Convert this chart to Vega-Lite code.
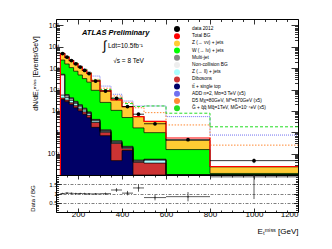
{
  "$schema": "https://vega.github.io/schema/vega-lite/v6.json",
  "padding": {"left": 28, "top": 18, "right": 4, "bottom": 4},
  "spacing": 0,
  "bounds": "flush",
  "config": {
    "font": "Liberation Sans",
    "view": {"stroke": "black", "strokeWidth": 1},
    "axis": {"grid": false, "domain": false, "tickColor": "black", "tickWidth": 0.8, "labelColor": "black", "titleColor": "black", "labelFont": "Liberation Sans", "titleFont": "Liberation Sans", "titleFontWeight": "normal", "minExtent": 0}
  },
  "datasets": {
    "h": [
      {"lo":120,"hi":140,"mid":130,"data":4800,"err":15.5,"tot":4800,"zvv":4800,"wlv":2400,"mj":520,"ncb":480,"zll":55,"vv":40,"tt":34,"add":5100,"d5":5050,"gmsb":5000,"ratio":1.0,"rerr":0.01},
      {"lo":140,"hi":160,"mid":150,"data":3250,"err":12.7,"tot":3200,"zvv":3200,"wlv":1570,"mj":58,"ncb":50,"zll":42,"vv":32,"tt":27,"add":3450,"d5":3400,"gmsb":3380,"ratio":1.02,"rerr":0.01},
      {"lo":160,"hi":180,"mid":170,"data":2270,"err":10.7,"tot":2250,"zvv":2250,"wlv":1060,"mj":41,"ncb":36,"zll":31,"vv":24,"tt":20,"add":2450,"d5":2400,"gmsb":2390,"ratio":1.01,"rerr":0.012},
      {"lo":180,"hi":200,"mid":190,"data":1590,"err":8.9,"tot":1600,"zvv":1600,"wlv":720,"mj":28,"ncb":25,"zll":22,"vv":17.5,"tt":14,"add":1760,"d5":1720,"gmsb":1720,"ratio":0.99,"rerr":0.015},
      {"lo":200,"hi":220,"mid":210,"data":1120,"err":7.5,"tot":1120,"zvv":1120,"wlv":480,"mj":19.5,"ncb":17.5,"zll":15.5,"vv":12.5,"tt":10,"add":1260,"d5":1220,"gmsb":1220,"ratio":1.0,"rerr":0.02},
      {"lo":220,"hi":240,"mid":230,"data":780,"err":6.2,"tot":790,"zvv":790,"wlv":324,"mj":13.5,"ncb":12.3,"zll":11,"vv":9,"tt":7,"add":910,"d5":870,"gmsb":870,"ratio":0.99,"rerr":0.02},
      {"lo":240,"hi":260,"mid":250,"data":560,"err":5.3,"tot":570,"zvv":570,"wlv":222,"mj":9,"ncb":8.3,"zll":7.5,"vv":6.2,"tt":4.8,"add":670,"d5":640,"gmsb":640,"ratio":0.98,"rerr":0.025},
      {"lo":260,"hi":300,"mid":280,"data":250,"err":2.5,"tot":255,"zvv":255,"wlv":92,"mj":4.0,"ncb":3.7,"zll":3.4,"vv":2.86,"tt":1.7,"add":427,"d5":300,"gmsb":280,"ratio":0.98,"rerr":0.03},
      {"lo":300,"hi":350,"mid":325,"data":85,"err":1.3,"tot":86,"zvv":86,"wlv":25,"mj":1.3,"ncb":1.2,"zll":1.09,"vv":1.0,"tt":0.69,"add":145,"d5":115,"gmsb":100,"ratio":0.99,"rerr":0.05},
      {"lo":350,"hi":400,"mid":375,"data":39,"err":0.88,"tot":33,"zvv":33,"wlv":10.6,"mj":0.4,"ncb":0.36,"zll":0.33,"vv":0.3,"tt":0.047,"add":60,"d5":50,"gmsb":40,"ratio":1.19,"rerr":0.1},
      {"lo":400,"hi":450,"mid":425,"data":16,"err":0.57,"tot":15.7,"zvv":15.7,"wlv":4.9,"mj":0.22,"ncb":0.2,"zll":0.19,"vv":0.17,"tt":0.14,"add":29,"d5":25,"gmsb":22,"ratio":1.02,"rerr":0.12},
      {"lo":450,"hi":500,"mid":475,"data":7,"err":0.37,"tot":5.4,"zvv":5.4,"wlv":1.6,"mj":0.05,"ncb":0.045,"zll":0.041,"vv":0.04,"tt":0.005,"add":17,"d5":14,"gmsb":16,"ratio":1.3,"rerr":0.2},
      {"lo":500,"hi":600,"mid":550,"data":2.5,"err":0.16,"tot":3.2,"zvv":3.2,"wlv":0.96,"mj":0.055,"ncb":0.052,"zll":0.05,"vv":0.036,"tt":0.004,"add":17,"d5":8.3,"gmsb":17,"ratio":0.78,"rerr":0.15},
      {"lo":600,"hi":800,"mid":700,"data":0.45,"err":0.047,"tot":0.54,"zvv":0.42,"wlv":0.155,"mj":0.008,"ncb":0.0075,"zll":0.007,"vv":0.006,"tt":0.003,"add":5.4,"d5":2.2,"gmsb":7.8,"ratio":0.83,"rerr":0.25},
      {"lo":800,"hi":1200,"mid":1000,"data":0.047,"err":0.011,"tot":0.025,"zvv":0.024,"wlv":0.0118,"mj":0.005,"ncb":0.0045,"zll":0.004,"vv":0.003,"tt":0.002,"add":0.74,"d5":0.25,"gmsb":1.8,"ratio":1.9,"rerr":1.2}
    ]
  },
  "resolve": {"legend": {"color": "independent"}},
  "vconcat": [
    {
      "width": 242,
      "height": 156,
      "data": {"name": "h"},
      "layer": [
        {
          "transform": [{"fold": ["zvv","wlv","mj","ncb","zll","vv","tt"], "as": ["key","value"]}],
          "mark": {"type": "area", "interpolate": "step-after", "clip": true, "opacity": 1},
          "encoding": {
            "x": {"field": "lo", "type": "quantitative", "scale": {"domain": [100,1200], "nice": false, "zero": false},
              "axis": {"orient": "bottom", "values": [100,150,200,250,300,350,400,450,500,550,600,650,700,750,800,850,900,950,1000,1050,1100,1150,1200], "tickSize": {"condition": {"test": "datum.value % 200 == 0", "value": -5}, "value": -2.5}, "labels": false, "title": null}},
            "y": {"field": "value", "type": "quantitative", "stack": null, "scale": {"type": "log", "domain": [0.01,200000], "nice": false, "clamp": true},
              "axis": {"orient": "left", "values": [0.01,0.02,0.03,0.04,0.05,0.06,0.07,0.08,0.09,0.1,0.2,0.3,0.4,0.5,0.6,0.7,0.8,0.9,1,2,3,4,5,6,7,8,9,10,20,30,40,50,60,70,80,90,100,200,300,400,500,600,700,800,900,1000,2000,3000,4000,5000,6000,7000,8000,9000,10000,20000,30000,40000,50000,60000,70000,80000,90000,100000],
                "tickSize": {"condition": {"test": "abs(log(datum.value)/LN10 - round(log(datum.value)/LN10)) < 0.01", "value": -7}, "value": -3.5},
                "labelExpr": "datum.value==100000?'10⁵':datum.value==10000?'10⁴':datum.value==1000?'10³':datum.value==100?'10²':datum.value==10?'10':datum.value==1?'1':datum.value==0.1?'10⁻¹':''",
                "labelFontSize": 7, "labelPadding": 4, "labelOverlap": false,
                "title": "dN/dEₜᵐⁱˢˢ [Events/GeV]", "titleFontSize": 7, "titleX": -19, "titleY": 54, "titleAngle": 270, "titleAlign": "center", "titleBaseline": "alphabetic"}},
            "y2": {"datum": 0.01},
            "color": {"field": "key", "type": "nominal",
              "scale": {"domain": ["data","tot","zvv","wlv","mj","ncb","zll","vv","tt","add","d5","gmsb"], "range": ["#000000","#ff0000","#ffcc33","#00ff00","#888888","#eeeeee","#aaffff","#cc3333","#000066","#7070f0","#ff8a33","#22dd22"]},
              "legend": {
                "orient": "none", "legendX": 117, "legendY": 6, "title": null, "padding": 0, "offset": 0,
                "labelFont": "Liberation Sans", "labelFontSize": 4.8, "labelColor": "black", "labelOffset": 11, "labelLimit": 300,
                "symbolSize": 36, "rowPadding": 0.2,
                "labelExpr": "datum.value=='data'?'data 2012':datum.value=='tot'?'Total BG':datum.value=='zvv'?'Z (→ νν) + jets':datum.value=='wlv'?'W (→ lν) + jets':datum.value=='mj'?'Multi-jet':datum.value=='ncb'?'Non-collision BG':datum.value=='zll'?'Z (→ ll) + jets':datum.value=='vv'?'Dibosons':datum.value=='tt'?'tt̄ + single top':datum.value=='add'?'ADD n=2, Mᴅ=3 TeV (x5)':datum.value=='d5'?'D5 Mχ=80GeV, M*=670GeV (x5)':'G̃ + q̃q̃ Mq̃=1TeV, MG̃=10⁻⁴eV (x5)'",
                "encode": {"symbols": {"update": {
                  "shape": {"signal": "datum.value=='data'?'M-3.333,0H3.333M0.667,0A0.667,0.667,0,1,1,-0.667,0A0.667,0.667,0,1,1,0.667,0Z':indexof(['tot','add','d5','gmsb'],datum.value)>=0?'M-3.333,0H3.333':'M-3.333,-1H3.333V1H-3.333Z'"},
                  "fill": {"signal": "datum.value=='data'?'#000000':indexof(['tot','add','d5','gmsb'],datum.value)>=0?'transparent':['#000000','#ff0000','#ffcc33','#00ff00','#888888','#eeeeee','#aaffff','#cc3333','#000066','#7070f0','#ff8a33','#22dd22'][indexof(['data','tot','zvv','wlv','mj','ncb','zll','vv','tt','add','d5','gmsb'],datum.value)]"},
                  "stroke": {"signal": "indexof(['tot','add','d5','gmsb'],datum.value)>=0?['#000000','#ff0000','#ffcc33','#00ff00','#888888','#eeeeee','#aaffff','#cc3333','#000066','#7070f0','#ff8a33','#22dd22'][indexof(['data','tot','zvv','wlv','mj','ncb','zll','vv','tt','add','d5','gmsb'],datum.value)]:'#000000'"},
                  "strokeWidth": {"signal": "datum.value=='tot'?1.2:indexof(['add','d5','gmsb'],datum.value)>=0?1:0.6"},
                  "strokeDash": {"signal": "datum.value=='add'?[1,1]:datum.value=='d5'?[1.5,1]:datum.value=='gmsb'?[3,2]:[]"},
                  "opacity": {"value": 1}
                }}}
              }}
          }
        },
        {
          "transform": [{"fold": ["zvv","wlv","mj","ncb","zll","vv","tt"], "as": ["key","value"]}, {"filter": "datum.lo == 800"}],
          "mark": {"type": "rect", "clip": true},
          "encoding": {
            "x": {"field": "lo", "type": "quantitative", "axis": null},
            "x2": {"field": "hi"},
            "y": {"field": "value", "type": "quantitative", "axis": null},
            "y2": {"datum": 0.01},
            "order": {"field": "value", "sort": "descending"},
            "fill": {"field": "key", "type": "nominal", "scale": {"domain": ["zvv","wlv","mj","ncb","zll","vv","tt"], "range": ["#ffcc33","#00ff00","#888888","#eeeeee","#aaffff","#cc3333","#000066"]}, "legend": null}
          }
        },
        {
          "transform": [{"fold": ["zvv","wlv","mj","ncb","zll","vv","tt"], "as": ["key","value"]}],
          "mark": {"type": "line", "interpolate": "step-after", "color": "black", "strokeWidth": 0.7, "clip": true},
          "encoding": {
            "x": {"field": "lo", "type": "quantitative",
              "axis": {"orient": "top", "values": [100,150,200,250,300,350,400,450,500,550,600,650,700,750,800,850,900,950,1000,1050,1100,1150,1200], "tickSize": {"condition": {"test": "datum.value % 200 == 0", "value": -5}, "value": -2.5}, "labels": false, "title": null}},
            "y": {"field": "value", "type": "quantitative",
              "axis": {"orient": "right", "values": [0.01,0.02,0.03,0.04,0.05,0.06,0.07,0.08,0.09,0.1,0.2,0.3,0.4,0.5,0.6,0.7,0.8,0.9,1,2,3,4,5,6,7,8,9,10,20,30,40,50,60,70,80,90,100,200,300,400,500,600,700,800,900,1000,2000,3000,4000,5000,6000,7000,8000,9000,10000,20000,30000,40000,50000,60000,70000,80000,90000,100000],
                "tickSize": {"condition": {"test": "abs(log(datum.value)/LN10 - round(log(datum.value)/LN10)) < 0.01", "value": -7}, "value": -3.5},
                "labels": false, "title": null}},
            "detail": {"field": "key"}
          }
        },
        {
          "transform": [{"fold": ["zvv","wlv","mj","ncb","zll","vv","tt"], "as": ["key","value"]}, {"filter": "datum.lo == 800"}],
          "mark": {"type": "rule", "color": "black", "strokeWidth": 0.7},
          "encoding": {
            "x": {"field": "lo", "type": "quantitative", "axis": null},
            "x2": {"field": "hi"},
            "y": {"field": "value", "type": "quantitative", "axis": null}
          }
        },
        {
          "transform": [{"fold": ["add","d5","gmsb"], "as": ["sig","sv"]}],
          "mark": {"type": "line", "interpolate": "step-after", "strokeWidth": 1, "clip": true},
          "encoding": {
            "x": {"field": "lo", "type": "quantitative", "axis": null},
            "y": {"field": "sv", "type": "quantitative", "axis": null},
            "stroke": {"field": "sig", "type": "nominal", "scale": {"domain": ["add","d5","gmsb"], "range": ["#7070f0","#ff8a33","#22dd22"]}, "legend": null},
            "strokeDash": {"field": "sig", "type": "nominal", "scale": {"domain": ["add","d5","gmsb"], "range": [[1,1],[1.5,1.5],[3,2]]}, "legend": null}
          }
        },
        {
          "transform": [{"fold": ["add","d5","gmsb"], "as": ["sig","sv"]}, {"filter": "datum.lo == 800"}],
          "mark": {"type": "rule", "strokeWidth": 1},
          "encoding": {
            "x": {"field": "lo", "type": "quantitative", "axis": null},
            "x2": {"field": "hi"},
            "y": {"field": "sv", "type": "quantitative", "axis": null},
            "stroke": {"field": "sig", "type": "nominal", "legend": null},
            "strokeDash": {"field": "sig", "type": "nominal", "legend": null}
          }
        },
        {
          "mark": {"type": "line", "interpolate": "step-after", "color": "#ff0000", "strokeWidth": 1.2, "clip": true},
          "encoding": {
            "x": {"field": "lo", "type": "quantitative", "axis": null},
            "y": {"field": "tot", "type": "quantitative", "axis": null}
          }
        },
        {
          "transform": [{"filter": "datum.lo == 800"}],
          "mark": {"type": "rule", "color": "#ff0000", "strokeWidth": 1.2},
          "encoding": {
            "x": {"field": "lo", "type": "quantitative", "axis": null},
            "x2": {"field": "hi"},
            "y": {"field": "tot", "type": "quantitative", "axis": null}
          }
        },
        {
          "transform": [{"filter": "datum.lo == 120"}],
          "mark": {"type": "rule", "color": "#ff0000", "strokeWidth": 1.2},
          "encoding": {
            "x": {"field": "lo", "type": "quantitative", "axis": null},
            "y": {"field": "tot", "type": "quantitative", "axis": null},
            "y2": {"datum": 0.01}
          }
        },
        {
          "mark": {"type": "rule", "color": "black", "strokeWidth": 0.8},
          "encoding": {
            "x": {"field": "lo", "type": "quantitative", "axis": null},
            "x2": {"field": "hi"},
            "y": {"field": "data", "type": "quantitative", "axis": null}
          }
        },
        {
          "mark": {"type": "errorbar", "color": "black", "thickness": 0.8},
          "encoding": {
            "x": {"field": "mid", "type": "quantitative", "axis": null},
            "y": {"field": "data", "type": "quantitative", "axis": null},
            "yError": {"field": "err"}
          }
        },
        {
          "mark": {"type": "circle", "color": "black", "size": 14, "opacity": 1},
          "encoding": {
            "x": {"field": "mid", "type": "quantitative", "axis": null},
            "y": {"field": "data", "type": "quantitative", "axis": null}
          }
        },
        {
          "data": {"values": [{}]},
          "mark": {"type": "text", "text": "ATLAS Preliminary", "font": "Liberation Sans", "fontSize": 7.5, "fontWeight": "bold", "fontStyle": "italic", "align": "left", "baseline": "alphabetic"},
          "encoding": {
            "x": {"datum": 218, "type": "quantitative", "axis": null},
            "y": {"datum": 34300, "type": "quantitative", "axis": null}
          }
        },
        {
          "data": {"values": [{}]},
          "mark": {"type": "text", "text": "∫", "font": "Liberation Sans", "fontSize": 13, "align": "left", "baseline": "alphabetic"},
          "encoding": {
            "x": {"datum": 314, "type": "quantitative", "axis": null},
            "y": {"datum": 6870, "type": "quantitative", "axis": null}
          }
        },
        {
          "data": {"values": [{}]},
          "mark": {"type": "text", "text": "Ldt=10.5fb⁻¹", "font": "Liberation Sans", "fontSize": 6.5, "align": "left", "baseline": "alphabetic"},
          "encoding": {
            "x": {"datum": 336, "type": "quantitative", "axis": null},
            "y": {"datum": 8800, "type": "quantitative", "axis": null}
          }
        },
        {
          "data": {"values": [{}]},
          "mark": {"type": "text", "text": "√s = 8 TeV", "font": "Liberation Sans", "fontSize": 6.5, "align": "left", "baseline": "alphabetic"},
          "encoding": {
            "x": {"datum": 360, "type": "quantitative", "axis": null},
            "y": {"datum": 1710, "type": "quantitative", "axis": null}
          }
        }
      ],
      "resolve": {"axis": {"x": "independent", "y": "independent"}}
    },
    {
      "width": 242,
      "height": 37,
      "data": {"name": "h"},
      "layer": [
        {
          "mark": {"type": "rule", "color": "#333333", "strokeWidth": 0.8, "clip": true},
          "encoding": {
            "x": {"field": "lo", "type": "quantitative", "scale": {"domain": [100,1200], "nice": false, "zero": false},
              "axis": {"orient": "bottom", "values": [100,150,200,250,300,350,400,450,500,550,600,650,700,750,800,850,900,950,1000,1050,1100,1150,1200], "tickSize": {"condition": {"test": "datum.value % 200 == 0", "value": -4}, "value": -2},
                "labelExpr": "datum.value % 200 == 0 ? format(datum.value, 'd') : ''", "labelFontSize": 8, "labelPadding": 2, "labelOverlap": false,
                "title": "Eₜᵐⁱˢˢ [GeV]", "titleFontSize": 8, "titleX": 242, "titleY": 21, "titleAlign": "right", "titleAnchor": "end", "titleBaseline": "alphabetic"}},
            "x2": {"field": "hi"},
            "y": {"field": "ratio", "type": "quantitative", "scale": {"domain": [0,2], "nice": false, "zero": false, "clamp": true},
              "axis": {"orient": "left", "values": [0.1,0.2,0.3,0.4,0.5,0.6,0.7,0.8,0.9,1,1.1,1.2,1.3,1.4,1.5,1.6,1.7,1.8,1.9],
                "tickSize": {"condition": {"test": "datum.value==0.5||datum.value==1||datum.value==1.5", "value": -5}, "value": -2.5},
                "labelExpr": "datum.value==0.5?'0.5':datum.value==1?'1':datum.value==1.5?'1.5':''", "labelFontSize": 6, "labelPadding": 4, "labelOverlap": false,
                "grid": true, "gridColor": "black", "gridWidth": 0.5, "gridDash": [3,1.5,1,1.5],
                "gridOpacity": {"condition": {"test": "datum.value==0.5||datum.value==1||datum.value==1.5", "value": 1}, "value": 0},
                "title": "Data / BG", "titleFontSize": 6, "titleX": -22, "titleY": 23, "titleAngle": 270, "titleAlign": "center", "titleBaseline": "alphabetic"}}
          }
        },
        {
          "mark": {"type": "errorbar", "color": "#333333", "thickness": 0.8},
          "encoding": {
            "x": {"field": "mid", "type": "quantitative", "axis": null},
            "y": {"field": "ratio", "type": "quantitative", "axis": null},
            "yError": {"field": "rerr"}
          }
        },
        {
          "mark": {"type": "circle", "color": "#333333", "size": 3, "opacity": 1},
          "encoding": {
            "x": {"field": "mid", "type": "quantitative",
              "axis": {"orient": "top", "values": [100,150,200,250,300,350,400,450,500,550,600,650,700,750,800,850,900,950,1000,1050,1100,1150,1200], "tickSize": {"condition": {"test": "datum.value % 200 == 0", "value": -4}, "value": -2}, "labels": false, "title": null}},
            "y": {"field": "ratio", "type": "quantitative",
              "axis": {"orient": "right", "values": [0.1,0.2,0.3,0.4,0.5,0.6,0.7,0.8,0.9,1,1.1,1.2,1.3,1.4,1.5,1.6,1.7,1.8,1.9], "tickSize": {"condition": {"test": "datum.value==0.5||datum.value==1||datum.value==1.5", "value": -5}, "value": -2.5}, "labels": false, "title": null}}
          }
        }
      ],
      "resolve": {"axis": {"x": "independent", "y": "independent"}}
    }
  ]
}
